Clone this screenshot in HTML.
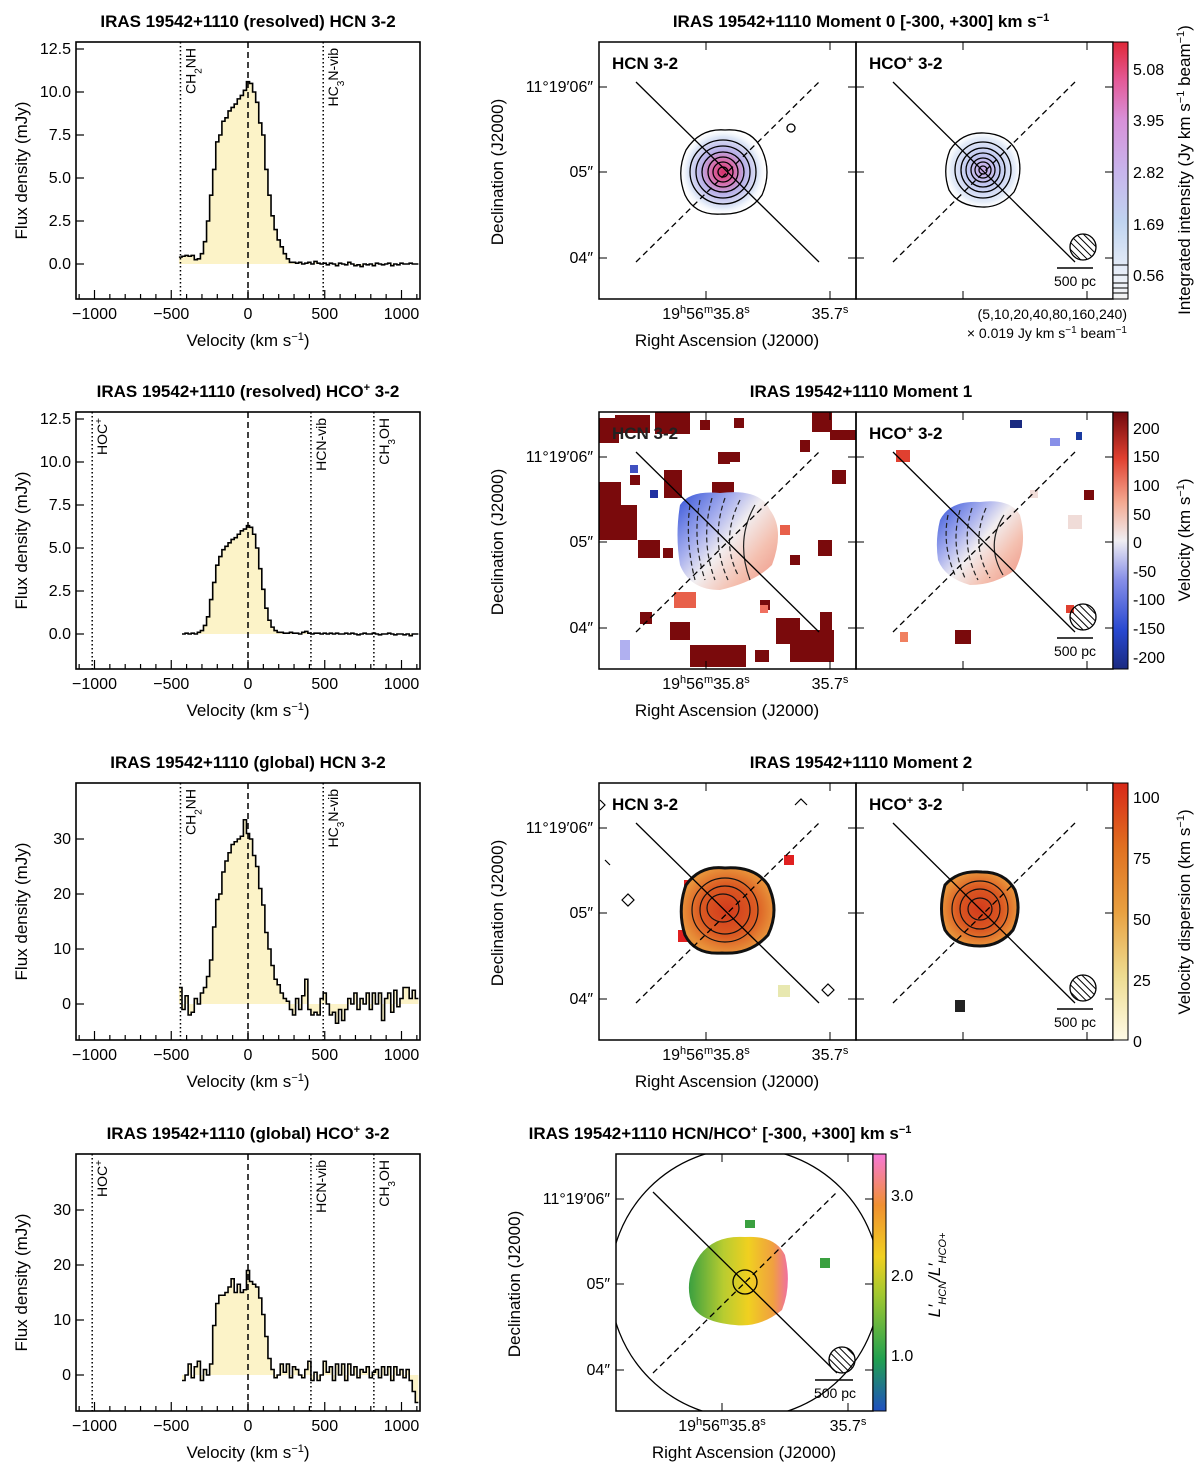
<!DOCTYPE html>
<html><head><meta charset="utf-8"><style>
body{margin:0;background:#fff}
svg{font-family:"Liberation Sans",sans-serif;display:block}
.t{font-weight:bold;font-size:17px}
.tk{font-size:16px}
.lb{font-size:17px}
.sm{font-size:13px}
</style></head><body>
<svg id="fig" width="1200" height="1470" viewBox="0 0 1200 1470">
<defs>
<pattern id="hatch" width="5" height="5" patternUnits="userSpaceOnUse" patternTransform="rotate(-45)"><line x1="0" y1="0" x2="0" y2="5" stroke="#000" stroke-width="2"/></pattern>
<radialGradient id="m0a"><stop offset="0" stop-color="#d6306a"/><stop offset="0.25" stop-color="#d86aa8"/><stop offset="0.5" stop-color="#b8b0e8"/><stop offset="0.8" stop-color="#dde6f6"/><stop offset="1" stop-color="#fff" stop-opacity="0"/></radialGradient>
<radialGradient id="m0b"><stop offset="0" stop-color="#c8a8e8"/><stop offset="0.4" stop-color="#c0c8f0"/><stop offset="0.8" stop-color="#e4ecf8"/><stop offset="1" stop-color="#fff" stop-opacity="0"/></radialGradient>
<linearGradient id="m1g" x1="0" y1="0" x2="1" y2="0.8"><stop offset="0" stop-color="#3050d8"/><stop offset="0.35" stop-color="#a8b0ee"/><stop offset="0.55" stop-color="#f2eef0"/><stop offset="0.8" stop-color="#f4c0b0"/><stop offset="1" stop-color="#f0a090"/></linearGradient>
<radialGradient id="m2g"><stop offset="0" stop-color="#d23a1c"/><stop offset="0.6" stop-color="#db5a22"/><stop offset="1" stop-color="#e8923a"/></radialGradient>
<linearGradient id="rg" x1="0" y1="0" x2="1" y2="0"><stop offset="0" stop-color="#3aa040"/><stop offset="0.35" stop-color="#b8cc30"/><stop offset="0.6" stop-color="#f0d020"/><stop offset="0.85" stop-color="#f0a040"/><stop offset="1" stop-color="#f070a0"/></linearGradient>
<linearGradient id="cb0" x1="0" y1="1" x2="0" y2="0"><stop offset="0" stop-color="#f4f4f4"/><stop offset="0.1" stop-color="#e8eef8"/><stop offset="0.3" stop-color="#c0d4f0"/><stop offset="0.5" stop-color="#c8b4ec"/><stop offset="0.7" stop-color="#d890d8"/><stop offset="0.85" stop-color="#e45a98"/><stop offset="1" stop-color="#e02838"/></linearGradient>
<linearGradient id="cb1" x1="0" y1="1" x2="0" y2="0"><stop offset="0" stop-color="#1a2a80"/><stop offset="0.15" stop-color="#2848d0"/><stop offset="0.35" stop-color="#8890e8"/><stop offset="0.5" stop-color="#f0eef2"/><stop offset="0.65" stop-color="#f4a890"/><stop offset="0.82" stop-color="#e04030"/><stop offset="1" stop-color="#70080c"/></linearGradient>
<linearGradient id="cb2" x1="0" y1="1" x2="0" y2="0"><stop offset="0" stop-color="#fffbe6"/><stop offset="0.25" stop-color="#eedc90"/><stop offset="0.5" stop-color="#e8a040"/><stop offset="0.75" stop-color="#e07020"/><stop offset="1" stop-color="#d82818"/></linearGradient>
<linearGradient id="cb3" x1="0" y1="1" x2="0" y2="0"><stop offset="0" stop-color="#2050c0"/><stop offset="0.2" stop-color="#20a050"/><stop offset="0.45" stop-color="#a0c830"/><stop offset="0.6" stop-color="#f0d020"/><stop offset="0.8" stop-color="#f09030"/><stop offset="1" stop-color="#f878d8"/></linearGradient>
<clipPath id="c0a"><rect x="599" y="42" width="257" height="257"/></clipPath>
<clipPath id="c0b"><rect x="856" y="42" width="257" height="257"/></clipPath>
<clipPath id="c1a"><rect x="599" y="412" width="257" height="257"/></clipPath>
<clipPath id="c1b"><rect x="856" y="412" width="257" height="257"/></clipPath>
<clipPath id="c2a"><rect x="599" y="783" width="257" height="257"/></clipPath>
<clipPath id="c2b"><rect x="856" y="783" width="257" height="257"/></clipPath>
<clipPath id="c3"><rect x="616" y="1154" width="257" height="257"/></clipPath>
</defs>
<g id="spectra"></g>

<!-- MOMENT 0 -->
<g>
<text x="861" y="27" text-anchor="middle" class="t">IRAS 19542+1110  Moment 0  [-300, +300] km s<tspan baseline-shift="super" font-size="11">−1</tspan></text>
<g clip-path="url(#c0a)"><circle cx="723" cy="172" r="44" fill="url(#m0a)"/>
<g fill="none" stroke="#000" stroke-width="1.3"><path d="M686,150 Q700,128 725,130 Q752,128 762,150 Q772,172 762,195 Q748,215 722,214 Q695,216 685,195 Q676,172 686,150Z"/><ellipse cx="723" cy="172" rx="33" ry="32"/><ellipse cx="723" cy="172" rx="27" ry="26"/><ellipse cx="723" cy="172" rx="21" ry="20"/><ellipse cx="723" cy="172" rx="15" ry="15"/><ellipse cx="723" cy="172" rx="10" ry="10"/><ellipse cx="723" cy="172" rx="5" ry="5"/><ellipse cx="791" cy="128" rx="4" ry="4"/></g>
<line x1="636" y1="82" x2="819" y2="262" stroke="#000" stroke-width="1.3"/><line x1="636" y1="262" x2="819" y2="82" stroke="#000" stroke-width="1.3" stroke-dasharray="6,4"/></g>
<g clip-path="url(#c0b)"><circle cx="983" cy="170" r="40" fill="url(#m0b)"/>
<g fill="none" stroke="#000" stroke-width="1.3"><path d="M950,150 Q962,132 984,133 Q1008,134 1017,152 Q1024,172 1014,192 Q1000,208 982,207 Q958,206 949,190 Q942,170 950,150Z"/><ellipse cx="983" cy="170" rx="28" ry="28"/><ellipse cx="983" cy="170" rx="22" ry="22"/><ellipse cx="983" cy="170" rx="17" ry="17"/><ellipse cx="983" cy="170" rx="12" ry="12"/><ellipse cx="983" cy="170" rx="8" ry="8"/><ellipse cx="983" cy="170" rx="4" ry="4"/></g>
<line x1="893" y1="82" x2="1075" y2="262" stroke="#000" stroke-width="1.3"/><line x1="893" y1="262" x2="1075" y2="82" stroke="#000" stroke-width="1.3" stroke-dasharray="6,4"/>
<circle cx="1083" cy="247" r="13" fill="url(#hatch)" stroke="#000" stroke-width="1.3"/><line x1="1057" y1="268" x2="1093" y2="268" stroke="#000" stroke-width="1.5"/><text x="1075" y="286" text-anchor="middle" font-size="14">500 pc</text></g>
<rect x="599" y="42" width="257" height="257" fill="none" stroke="#000" stroke-width="1.5"/><rect x="856" y="42" width="257" height="257" fill="none" stroke="#000" stroke-width="1.5"/>
<text x="612" y="69" class="t">HCN 3-2</text><text x="869" y="69" class="t">HCO<tspan baseline-shift="super" font-size="11">+</tspan> 3-2</text>
<rect x="1113" y="42" width="15" height="257" fill="url(#cb0)" stroke="#000" stroke-width="1"/>
<g stroke="#000"><line x1="1113" y1="283" x2="1128" y2="283"/><line x1="1113" y1="288" x2="1128" y2="288"/><line x1="1113" y1="293" x2="1128" y2="293"/><line x1="1113" y1="275" x2="1128" y2="275"/><line x1="1113" y1="265" x2="1128" y2="265"/></g>
<g class="tk"><text x="1133" y="281">0.56</text><text x="1133" y="230">1.69</text><text x="1133" y="178">2.82</text><text x="1133" y="126">3.95</text><text x="1133" y="75">5.08</text></g>
<text transform="translate(1190,170) rotate(-90)" text-anchor="middle" class="lb">Integrated intensity (Jy km s<tspan baseline-shift="super" font-size="11">−1</tspan> beam<tspan baseline-shift="super" font-size="11">−1</tspan>)</text>
<text x="1127" y="319" text-anchor="end" font-size="14">(5,10,20,40,80,160,240)</text>
<text x="1127" y="338" text-anchor="end" font-size="14">× 0.019 Jy km s<tspan baseline-shift="super" font-size="10">−1</tspan> beam<tspan baseline-shift="super" font-size="10">−1</tspan></text>
</g>

<!-- MOMENT 1 -->
<g>
<text x="861" y="397" text-anchor="middle" class="t">IRAS 19542+1110  Moment 1</text>
<g clip-path="url(#c1a)" fill="#7a0a0c">
<rect x="599" y="505" width="38" height="35"/><rect x="599" y="482" width="22" height="25"/><rect x="599" y="418" width="20" height="25"/><rect x="615" y="415" width="35" height="18"/><rect x="655" y="412" width="35" height="22"/><rect x="664" y="470" width="18" height="28"/><rect x="638" y="540" width="22" height="18"/><rect x="712" y="482" width="22" height="15"/><rect x="718" y="452" width="12" height="12"/><rect x="728" y="452" width="12" height="10"/><rect x="812" y="412" width="20" height="20"/><rect x="800" y="440" width="10" height="12"/><rect x="832" y="470" width="14" height="14"/><rect x="818" y="540" width="14" height="16"/><rect x="790" y="555" width="10" height="10"/><rect x="663" y="548" width="10" height="10"/><rect x="690" y="645" width="56" height="22"/><rect x="670" y="622" width="20" height="18"/><rect x="776" y="618" width="24" height="26"/><rect x="790" y="630" width="44" height="32"/><rect x="820" y="612" width="12" height="20"/><rect x="755" y="650" width="14" height="12"/><rect x="830" y="430" width="26" height="10"/><rect x="760" y="600" width="10" height="10"/><rect x="640" y="612" width="12" height="12"/><rect x="630" y="475" width="10" height="10"/><rect x="700" y="420" width="10" height="10"/><rect x="734" y="418" width="10" height="10"/>
<rect x="674" y="592" width="22" height="16" fill="#e8604a"/><rect x="780" y="525" width="10" height="10" fill="#e8604a"/><rect x="760" y="605" width="8" height="8" fill="#f07060"/><rect x="620" y="640" width="10" height="20" fill="#b0b0f0"/><rect x="650" y="490" width="8" height="8" fill="#2030a0"/><rect x="630" y="465" width="8" height="8" fill="#4050c0"/>
<path d="M680,505 Q690,490 720,493 Q760,488 770,510 Q785,530 772,565 Q755,582 720,590 Q690,590 680,565 Q675,535 680,505Z" fill="url(#m1g)"/>
<g fill="none" stroke="#222" stroke-width="1.2" stroke-dasharray="5,3"><path d="M690,505 Q685,540 695,580"/><path d="M700,500 Q692,540 705,580"/><path d="M712,498 Q700,540 715,580"/><path d="M725,498 Q710,540 728,580"/><path d="M740,500 Q720,540 738,575"/></g>
<path d="M755,505 Q735,540 750,580" fill="none" stroke="#222" stroke-width="1.2"/>
<line x1="636" y1="452" x2="819" y2="632" stroke="#000" stroke-width="1.3"/><line x1="636" y1="632" x2="819" y2="452" stroke="#000" stroke-width="1.3" stroke-dasharray="6,4"/></g>
<g clip-path="url(#c1b)">
<rect x="1010" y="420" width="12" height="8" fill="#1a2a80"/><rect x="1050" y="438" width="10" height="8" fill="#8890e8"/><rect x="1076" y="432" width="6" height="8" fill="#1a3aa0"/><rect x="1084" y="490" width="10" height="10" fill="#7a0a0c"/><rect x="955" y="630" width="16" height="14" fill="#7a0a0c"/><rect x="1066" y="605" width="8" height="8" fill="#e04030"/><rect x="896" y="450" width="14" height="12" fill="#e04030"/><rect x="1068" y="515" width="14" height="14" fill="#f0dcd8"/><rect x="900" y="632" width="8" height="10" fill="#f08060"/><rect x="1030" y="490" width="8" height="8" fill="#f0dcd8"/>
<path d="M940,520 Q950,500 980,502 Q1010,498 1020,515 Q1028,545 1015,570 Q995,585 970,585 Q945,578 938,560 Q935,540 940,520Z" fill="url(#m1g)"/>
<g fill="none" stroke="#222" stroke-width="1.2" stroke-dasharray="5,3"><path d="M948,515 Q942,545 955,575"/><path d="M960,510 Q950,545 965,578"/><path d="M972,508 Q960,545 978,580"/><path d="M986,508 Q970,545 990,578"/></g>
<path d="M1004,515 Q985,545 1003,575" fill="none" stroke="#222" stroke-width="1.2"/>
<line x1="893" y1="452" x2="1075" y2="632" stroke="#000" stroke-width="1.3"/><line x1="893" y1="632" x2="1075" y2="452" stroke="#000" stroke-width="1.3" stroke-dasharray="6,4"/>
<circle cx="1083" cy="617" r="13" fill="url(#hatch)" stroke="#000" stroke-width="1.3"/><line x1="1057" y1="638" x2="1093" y2="638" stroke="#000" stroke-width="1.5"/><text x="1075" y="656" text-anchor="middle" font-size="14">500 pc</text></g>
<rect x="599" y="412" width="257" height="257" fill="none" stroke="#000" stroke-width="1.5"/><rect x="856" y="412" width="257" height="257" fill="none" stroke="#000" stroke-width="1.5"/>
<text x="612" y="439" class="t" fill="#222">HCN 3-2</text><text x="869" y="439" class="t">HCO<tspan baseline-shift="super" font-size="11">+</tspan> 3-2</text>
<rect x="1113" y="412" width="15" height="257" fill="url(#cb1)" stroke="#000" stroke-width="1"/>
<g class="tk"><text x="1133" y="434">200</text><text x="1133" y="462">150</text><text x="1133" y="491">100</text><text x="1133" y="520">50</text><text x="1133" y="548">0</text><text x="1133" y="577">-50</text><text x="1133" y="605">-100</text><text x="1133" y="634">-150</text><text x="1133" y="663">-200</text></g>
<text transform="translate(1190,540) rotate(-90)" text-anchor="middle" class="lb">Velocity (km s<tspan baseline-shift="super" font-size="11">−1</tspan>)</text>
</g>

<!-- MOMENT 2 -->
<g>
<text x="861" y="768" text-anchor="middle" class="t">IRAS 19542+1110  Moment 2</text>
<g clip-path="url(#c2a)">
<rect x="684" y="880" width="18" height="18" fill="#e02020"/><rect x="678" y="930" width="10" height="12" fill="#e02020"/><rect x="784" y="855" width="10" height="10" fill="#e02020"/><rect x="778" y="985" width="12" height="12" fill="#e8e8b0"/>
<path d="M686,885 Q700,865 725,868 Q755,866 768,885 Q780,910 768,935 Q750,955 722,953 Q695,955 685,935 Q677,910 686,885Z" fill="url(#m2g)" stroke="#111" stroke-width="3"/>
<g fill="none" stroke="#111" stroke-width="1.2"><ellipse cx="725" cy="910" rx="33" ry="32"/><ellipse cx="725" cy="910" rx="25" ry="24"/><ellipse cx="723" cy="908" rx="16" ry="14"/></g>
<g fill="none" stroke="#000" stroke-width="1.2"><path d="M600,800 l5,5 l-5,5"/><path d="M622,900 l6,-6 l6,6 l-6,6z"/><path d="M822,990 l6,-6 l6,6 l-6,6z"/><path d="M605,860 l5,5"/><path d="M795,805 l6,-6 l6,6"/></g>
<line x1="636" y1="823" x2="819" y2="1003" stroke="#000" stroke-width="1.3"/><line x1="636" y1="1003" x2="819" y2="823" stroke="#000" stroke-width="1.3" stroke-dasharray="6,4"/></g>
<g clip-path="url(#c2b)">
<path d="M945,885 Q958,870 982,872 Q1005,872 1015,890 Q1022,910 1013,930 Q1000,946 980,946 Q955,946 945,930 Q938,910 945,885Z" fill="url(#m2g)" stroke="#111" stroke-width="3"/>
<g fill="none" stroke="#111" stroke-width="1.2"><ellipse cx="980" cy="909" rx="28" ry="28"/><ellipse cx="980" cy="909" rx="20" ry="20"/><ellipse cx="980" cy="909" rx="12" ry="11"/></g>
<rect x="955" y="1000" width="10" height="12" fill="#222"/>
<line x1="893" y1="823" x2="1075" y2="1003" stroke="#000" stroke-width="1.3"/><line x1="893" y1="1003" x2="1075" y2="823" stroke="#000" stroke-width="1.3" stroke-dasharray="6,4"/>
<circle cx="1083" cy="988" r="13" fill="url(#hatch)" stroke="#000" stroke-width="1.3"/><line x1="1057" y1="1009" x2="1093" y2="1009" stroke="#000" stroke-width="1.5"/><text x="1075" y="1027" text-anchor="middle" font-size="14">500 pc</text></g>
<rect x="599" y="783" width="257" height="257" fill="none" stroke="#000" stroke-width="1.5"/><rect x="856" y="783" width="257" height="257" fill="none" stroke="#000" stroke-width="1.5"/>
<text x="612" y="810" class="t">HCN 3-2</text><text x="869" y="810" class="t">HCO<tspan baseline-shift="super" font-size="11">+</tspan> 3-2</text>
<rect x="1113" y="783" width="15" height="257" fill="url(#cb2)" stroke="#000" stroke-width="1"/>
<g class="tk"><text x="1133" y="803">100</text><text x="1133" y="864">75</text><text x="1133" y="925">50</text><text x="1133" y="986">25</text><text x="1133" y="1047">0</text></g>
<text transform="translate(1190,912) rotate(-90)" text-anchor="middle" class="lb">Velocity dispersion (km s<tspan baseline-shift="super" font-size="11">−1</tspan>)</text>
</g>

<!-- RATIO -->
<g>
<text x="720" y="1139" text-anchor="middle" class="t">IRAS 19542+1110  HCN/HCO<tspan baseline-shift="super" font-size="11">+</tspan>  [-300, +300] km s<tspan baseline-shift="super" font-size="11">−1</tspan></text>
<g clip-path="url(#c3)">
<circle cx="745" cy="1283" r="135" fill="none" stroke="#000" stroke-width="1.3"/>
<path d="M700,1255 Q715,1235 745,1237 Q775,1235 785,1255 Q792,1285 782,1310 Q760,1328 735,1325 Q700,1322 692,1305 Q683,1280 700,1255Z" fill="url(#rg)"/>
<rect x="745" y="1220" width="10" height="8" fill="#3aa040"/><rect x="820" y="1258" width="10" height="10" fill="#3aa040"/>
<circle cx="745" cy="1282" r="12" fill="none" stroke="#000" stroke-width="1.3"/>
<line x1="653" y1="1192" x2="837" y2="1373" stroke="#000" stroke-width="1.3"/><line x1="653" y1="1373" x2="837" y2="1192" stroke="#000" stroke-width="1.3" stroke-dasharray="6,4"/>
<circle cx="842" cy="1360" r="13" fill="url(#hatch)" stroke="#000" stroke-width="1.3"/><line x1="815" y1="1380" x2="853" y2="1380" stroke="#000" stroke-width="1.5"/><text x="835" y="1398" text-anchor="middle" font-size="14">500 pc</text></g>
<rect x="616" y="1154" width="257" height="257" fill="none" stroke="#000" stroke-width="1.5"/>
<rect x="873" y="1154" width="13" height="257" fill="url(#cb3)" stroke="#000" stroke-width="1"/>
<g class="tk"><text x="891" y="1201">3.0</text><text x="891" y="1281">2.0</text><text x="891" y="1361">1.0</text></g>
<text transform="translate(940,1275) rotate(-90)" text-anchor="middle" class="lb" font-style="italic">L′<tspan font-size="11" baseline-shift="sub">HCN</tspan>/L′<tspan font-size="11" baseline-shift="sub">HCO+</tspan></text>
</g>
<g id="mapaxes"></g>
</svg>
<script>
// ---- Spectra data (velocity bins, 20 km/s) ----
const velStart1 = -440;
const fluxResHCN = [0.4,0.45,0.5,0.45,0.5,0.25,0.3,0.6,1.3,2.5,4.0,5.5,7.1,7.5,8.3,8.5,8.9,9.1,9.3,9.6,9.8,10.1,10.6,10.5,10.0,9.4,8.2,7.5,5.5,4.0,2.8,2.0,1.4,1.0,0.6,0.3,0.1,0.1,0.05,0.1,0.0,0.05,0.1,0.0,0.15,0.05,0.0,0.05,-0.05,0.05,0.0,-0.1,0.05,0.0,-0.05,0.1,0.0,-0.1,-0.05,-0.15,0.0,-0.05,0.0,-0.1,0.05,0.0,-0.05,0.0,0.05,-0.1,0.0,-0.05,0.05,0.0,0.0,0.05,0.0,0.0];
const velStart2 = -420;
const fluxResHCO = [0.0,0.05,0.0,0.05,0.0,0.1,0.2,0.5,1.0,2.0,3.0,4.0,4.5,4.9,5.1,5.3,5.5,5.6,5.8,6.0,6.1,6.3,6.2,5.8,5.0,3.8,2.6,1.5,0.8,0.4,0.2,0.1,0.1,0.05,0.05,0.1,0.05,0.05,0.0,0.1,0.15,0.05,0.0,0.05,0.05,0.0,0.05,0.0,0.05,0.0,0.05,0.0,0.0,0.05,0.0,0.05,0.0,-0.05,0.0,0.05,0.0,0.0,0.05,0.0,-0.05,0.0,0.0,0.05,0.0,-0.05,0.0,0.0,-0.05,0.0,-0.1,0.0,0.0];
const velStart3 = -440;
const fluxGlobHCN = [3,-1,1.5,-2,-1.5,1,0,2,3,5,8,14,19,20,24,26,27.5,29,29.5,30,30.5,33.5,31,30,27,25,21,18,13,10,7,4.5,3.5,2,1,0.5,-1,-2,1,-1,1.5,4.5,-1,-2,-1.5,-2,1,2,0,-2,-1.5,-3.5,-1,-3,-1,1,0,2,-1,1,0,2,-1,2,0,2,-3,1,2,-1.5,2.5,-0.5,1,3,3,1,2.5,1];
const velStart4 = -420;
const fluxGlobHCO = [-1,0,2,-0.5,1.5,2.5,-1,1,0,2,9,13,14.5,14.5,15,16,17.5,15,16.5,15,15.5,19,17,16.5,16,14,11,7,3,1,-0.5,0,2,0.5,2,-0.5,1.5,1,0,-0.5,1,2.5,-1,0.5,-1,0,2.5,0.5,1.5,-1,2,0,2,-1,2,0,1.5,-0.5,1,0.5,1.5,-0.5,0.5,1,-0.5,1.5,0,1.5,-1,1.5,0,1,-0.5,1,-1,-3,-5];
const xTicks = [-1000,-500,0,500,1000];
const yTicksRes = ["0.0","2.5","5.0","7.5","10.0","12.5"];
const yTicksGlob = ["0","10","20","30"];
const linesHCN = [{v:-440,n:"CH2NH"},{v:490,n:"HC3N-vib"}];
const linesHCO = [{v:-1015,n:"HOC+"},{v:410,n:"HCN-vib"},{v:820,n:"CH3OH"}];

const NS="http://www.w3.org/2000/svg";
function mk(tag,attrs,parent){const e=document.createElementNS(NS,tag);for(const k in attrs)e.setAttribute(k,attrs[k]);parent.appendChild(e);return e;}
const X0=76,X1=420;
function xs(v){return 248+v*0.1535;}
const panels=[
 {title:"IRAS 19542+1110  (resolved)  HCN 3-2",top:42,y0:264,ppu:17.2,data:fluxResHCN,vs:velStart1,ticks:yTicksRes,lines:linesHCN,tx:248},
 {title:"IRAS 19542+1110  (resolved)  HCO+ 3-2",top:412,y0:634,ppu:17.2,data:fluxResHCO,vs:velStart2,ticks:yTicksRes,lines:linesHCO,tx:248},
 {title:"IRAS 19542+1110  (global)  HCN 3-2",top:783,y0:1004,ppu:5.5,data:fluxGlobHCN,vs:velStart3,ticks:yTicksGlob,lines:linesHCN,tx:248},
 {title:"IRAS 19542+1110  (global)  HCO+ 3-2",top:1154,y0:1375,ppu:5.5,data:fluxGlobHCO,vs:velStart4,ticks:yTicksGlob,lines:linesHCO,tx:248}
];
const root=document.getElementById('spectra');
panels.forEach((p,i)=>{
 const g=mk('g',{},root);
 
 
 const H=257,bot=p.top+H;
 const ys=f=>p.y0-f*p.ppu;
 const cp=mk('clipPath',{id:'sc'+i},g);mk('rect',{x:X0,y:p.top,width:X1-X0,height:H},cp);
 const inner=mk('g',{'clip-path':'url(#sc'+i+')'},g);
 let d='',fill='M'+xs(p.vs-10)+','+ys(0);
 p.data.forEach((f,k)=>{const v=p.vs+k*20;const a=xs(v-10),b=xs(v+10),y=ys(f);d+=(k?'L':'M')+a+','+y+'L'+b+','+y;fill+='L'+a+','+y+'L'+b+','+y;});
 fill+='L'+xs(p.vs+p.data.length*20-10)+','+ys(0)+'Z';
 const fp=mk('path',{d:fill,fill:'#fcf3c8',stroke:'none'},inner);
 
 
 const sp=mk('path',{d:d,fill:'none',stroke:'#000','stroke-width':1.6},inner);
 
 
 mk('line',{x1:xs(0),x2:xs(0),y1:p.top,y2:bot,stroke:'#000','stroke-width':1.5,'stroke-dasharray':'6,4'},inner);
 p.lines.forEach(l=>{
  const x=xs(l.v);
  const ln=mk('line',{x1:x,x2:x,y1:p.top,y2:bot,stroke:'#000','stroke-width':1.5,'stroke-dasharray':'1.5,2.5'},inner);
  
  
  const t=mk('text',{transform:'translate('+(x+15)+','+(p.top+6)+') rotate(-90)','text-anchor':'end','font-size':14},g);
  let n=l.n;
  if(n==='CH2NH')t.innerHTML='CH<tspan baseline-shift="sub" font-size="10">2</tspan>NH';
  else if(n==='HC3N-vib')t.innerHTML='HC<tspan baseline-shift="sub" font-size="10">3</tspan>N-vib';
  else if(n==='CH3OH')t.innerHTML='CH<tspan baseline-shift="sub" font-size="10">3</tspan>OH';
  else if(n==='HOC+')t.innerHTML='HOC<tspan baseline-shift="super" font-size="10">+</tspan>';
  else t.textContent=n;
 });
 mk('rect',{x:X0,y:p.top,width:X1-X0,height:H,fill:'none',stroke:'#000','stroke-width':1.6},g);
 for(let v=-1100;v<=1100;v+=100){const x=xs(v);const big=v%500===0;mk('line',{x1:x,x2:x,y1:bot,y2:bot-(big?9:5),stroke:'#000','stroke-width':1.2},g);}
 xTicks.forEach(v=>{const t=mk('text',{x:xs(v),y:bot+20,'text-anchor':'middle','class':'tk'},g);t.textContent=v<0?'−'+Math.abs(v):String(v);});
 p.ticks.forEach(s=>{const y=ys(parseFloat(s));mk('line',{x1:X0,x2:X0+8,y1:y,y2:y,stroke:'#000','stroke-width':1.2},g);const t=mk('text',{x:X0-5,y:y+5,'text-anchor':'end','class':'tk'},g);t.textContent=s;});
 const tt=mk('text',{x:248,y:p.top-15,'text-anchor':'middle','class':'t'},g);
 
 
 if(p.title.includes('HCO+'))tt.innerHTML=p.title.replace('HCO+','HCO<tspan baseline-shift="super" font-size="11">+</tspan>');else tt.textContent=p.title;
 const xl=mk('text',{x:248,y:bot+47,'text-anchor':'middle','class':'lb'},g);
 xl.innerHTML='Velocity (km s<tspan baseline-shift="super" font-size="11">−1</tspan>)';
 const yl=mk('text',{transform:'translate(27,'+(p.top+H/2)+') rotate(-90)','text-anchor':'middle','class':'lb'},g);
 yl.textContent='Flux density (mJy)';
});
// map axes
const ma=document.getElementById('mapaxes');
const maps=[{x:599,top:42,n:2,xt:[706,830]},{x:599,top:412,n:2,xt:[706,830]},{x:599,top:783,n:2,xt:[706,830]},{x:616,top:1154,n:1,xt:[722,848]}];
maps.forEach((m,i)=>{
 const g=mk('g',{},ma);
 
 
 const ys=[m.top+45,m.top+130,m.top+216];
 const lbl=['11°19′06″','05″','04″'];
 for(let k=0;k<m.n;k++){const x0=m.x+k*257;
  ys.forEach(y=>{mk('line',{x1:x0,x2:x0+8,y1:y,y2:y,stroke:'#000'},g);mk('line',{x1:x0+257,x2:x0+249,y1:y,y2:y,stroke:'#000'},g);});
  m.xt.forEach(x=>{const xx=x+k*257;mk('line',{x1:xx,x2:xx,y1:m.top+257,y2:m.top+249,stroke:'#000'},g);mk('line',{x1:xx,x2:xx,y1:m.top,y2:m.top+8,stroke:'#000'},g);});
 }
 ys.forEach((y,k)=>{const t=mk('text',{x:m.x-6,y:y+5,'text-anchor':'end','class':'tk'},g);t.textContent=lbl[k];});
 const a=mk('text',{x:m.xt[0],y:m.top+277,'text-anchor':'middle','class':'tk'},g);
 a.innerHTML='19<tspan baseline-shift="super" font-size="11">h</tspan>56<tspan baseline-shift="super" font-size="11">m</tspan>35.8<tspan baseline-shift="super" font-size="11">s</tspan>';
 const b=mk('text',{x:m.xt[1],y:m.top+277,'text-anchor':'middle','class':'tk'},g);
 b.innerHTML='35.7<tspan baseline-shift="super" font-size="11">s</tspan>';
 const xl=mk('text',{x:m.x+128,y:m.top+304,'text-anchor':'middle','class':'lb'},g);xl.textContent='Right Ascension (J2000)';
 const yl=mk('text',{transform:'translate('+(m.x-96)+','+(m.top+130)+') rotate(-90)','text-anchor':'middle','class':'lb'},g);yl.textContent='Declination (J2000)';
});
</script>
</body></html>
